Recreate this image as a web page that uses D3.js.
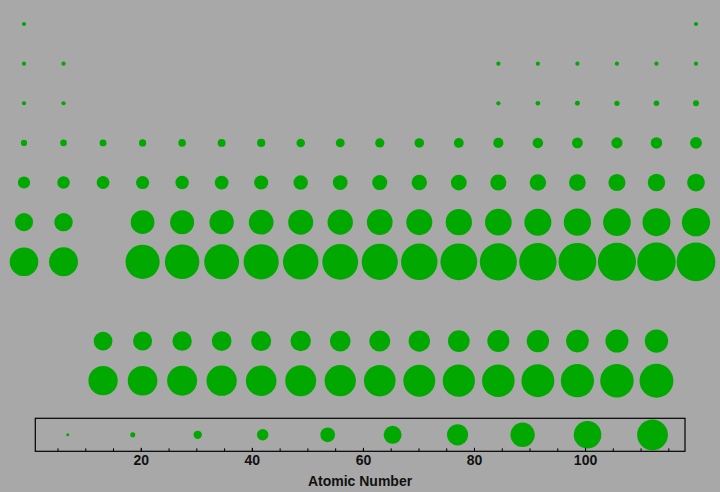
<!DOCTYPE html>
<html>
<head>
<meta charset="utf-8">
<script src="https://cdn.jsdelivr.net/npm/d3@7"></script>
<style>
  html, body { margin: 0; padding: 0; background: #a8a8a8; }
  svg { display: block; }
  text { font-family: "Liberation Sans", Arial, Helvetica, sans-serif; }
</style>
</head>
<body>
<script>
// Atomic numbers of the elements (1..118)
const atomicNumber = [
  1,2,
  3,4,5,6,7,8,9,10,
  11,12,13,14,15,16,17,18,
  19,20,21,22,23,24,25,26,27,28,29,30,31,32,33,34,35,36,
  37,38,39,40,41,42,43,44,45,46,47,48,49,50,51,52,53,54,
  55,56,57,58,59,60,61,62,63,64,65,66,67,68,69,70,71,72,73,74,75,76,77,78,79,80,81,82,83,84,85,86,
  87,88,89,90,91,92,93,94,95,96,97,98,99,100,101,102,103,104,105,106,107,108,109,110,111,112,113,114,115,116,117,118
];
// Column (group) of each element in the table layout
const groupCol = [
  1,18,
  1,2,13,14,15,16,17,18,
  1,2,13,14,15,16,17,18,
  1,2,3,4,5,6,7,8,9,10,11,12,13,14,15,16,17,18,
  1,2,3,4,5,6,7,8,9,10,11,12,13,14,15,16,17,18,
  1,2,3,4,5,6,7,8,9,10,11,12,13,14,15,16,17,4,5,6,7,8,9,10,11,12,13,14,15,16,17,18,
  1,2,3,4,5,6,7,8,9,10,11,12,13,14,15,16,17,4,5,6,7,8,9,10,11,12,13,14,15,16,17,18
];
// Row of each element in the table layout (9 = lanthanides, 10 = actinides)
const periodRow = [
  1,1,
  2,2,2,2,2,2,2,2,
  3,3,3,3,3,3,3,3,
  4,4,4,4,4,4,4,4,4,4,4,4,4,4,4,4,4,4,
  5,5,5,5,5,5,5,5,5,5,5,5,5,5,5,5,5,5,
  6,6,9,9,9,9,9,9,9,9,9,9,9,9,9,9,9,6,6,6,6,6,6,6,6,6,6,6,6,6,6,6,
  7,7,10,10,10,10,10,10,10,10,10,10,10,10,10,10,10,7,7,7,7,7,7,7,7,7,7,7,7,7,7,7
];
// Size legend values (atomic number)
const legendValues = [6.85, 18.55, 30.25, 41.95, 53.65, 65.35, 77.05, 88.75, 100.45, 112.15];
const axisDomain = [1, 118];
const majorTicks = [20, 40, 60, 80, 100];
const minorTicks = [5, 10, 15, 20, 25, 30, 35, 40, 45, 50, 55, 60, 65, 70, 75, 80, 85, 90, 95, 100, 105, 110, 115];
const axisTitle = "Atomic Number";

const W = 720, H = 492;
const green = "#00a800";

const svg = d3.select("body").append("svg")
  .attr("width", W).attr("height", H);

svg.append("rect").attr("width", W).attr("height", H).attr("fill", "#a8a8a8");

const elements = atomicNumber.map((z, i) => ({ z, col: groupCol[i], row: periodRow[i] }));

const xCol = d3.scaleLinear().domain([1, 18]).range([24, 696]);
const yRow = d3.scaleLinear().domain([1, 10]).range([24, 380.7]);
const rTable = d3.scaleLinear().domain([0, 118]).range([0, 19.4]);

svg.append("g").selectAll("circle")
  .data(elements)
  .join("circle")
  .attr("cx", d => xCol(d.col))
  .attr("cy", d => yRow(d.row))
  .attr("r", d => Math.max(2.1, rTable(d.z)))
  .attr("fill", green);

// Legend / axis box
const box = { x0: 35.3, x1: 685, y0: 418.3, y1: 451.3 };
const xAxisScale = d3.scaleLinear().domain(axisDomain).range([box.x0, box.x1]);
const rLegend = d3.scaleLinear().domain([0, 118]).range([0, 16.2]);

svg.append("g").selectAll("circle")
  .data(legendValues)
  .join("circle")
  .attr("cx", d => xAxisScale(d))
  .attr("cy", (box.y0 + box.y1) / 2)
  .attr("r", d => Math.max(1.5, rLegend(d)))
  .attr("fill", green);

svg.append("rect")
  .attr("x", box.x0).attr("y", box.y0)
  .attr("width", box.x1 - box.x0).attr("height", box.y1 - box.y0)
  .attr("fill", "none").attr("stroke", "#000").attr("stroke-width", 1.2);

const minorAxis = svg.append("g")
  .attr("transform", `translate(0,${box.y1})`)
  .call(d3.axisBottom(xAxisScale).tickValues(minorTicks).tickSizeInner(-3).tickSizeOuter(0).tickFormat(""));
minorAxis.select(".domain").remove();
minorAxis.selectAll("line").attr("stroke", "#000");

const majorAxis = svg.append("g")
  .attr("transform", `translate(0,${box.y1})`)
  .call(d3.axisBottom(xAxisScale).tickValues(majorTicks).tickSizeInner(-3.5).tickSizeOuter(0).tickPadding(4));
majorAxis.select(".domain").remove();
majorAxis.selectAll("line").attr("stroke", "#000");
majorAxis.selectAll("text")
  .attr("fill", "#111")
  .style("font-size", "14px")
  .style("font-weight", "bold")
  .style("font-family", "'Liberation Sans', Arial, Helvetica, sans-serif");

svg.append("text")
  .attr("x", 360).attr("y", 486.3)
  .attr("text-anchor", "middle")
  .attr("fill", "#111")
  .style("font-size", "14px")
  .style("font-weight", "bold")
  .text(axisTitle);
</script>
</body>
</html>
